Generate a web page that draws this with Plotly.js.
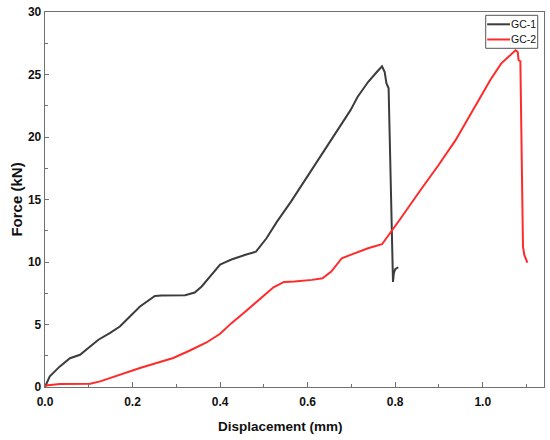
<!DOCTYPE html>
<html>
<head>
<meta charset="utf-8">
<script src="https://cdn.plot.ly/plotly-3.0.1.min.js"></script>
<style>html,body{margin:0;padding:0;background:#fff;}#chart{width:550px;height:440px;}</style>
</head>
<body>
<div id="chart"></div>
<script>
var seriesNames = ["GC-1", "GC-2"];
var seriesColors = ["#3c3c3c", "#ff2a2a"];
var gc1X = [0, 0.002, 0.011, 0.034, 0.057, 0.08, 0.103, 0.122, 0.148, 0.171, 0.194, 0.217, 0.251, 0.266, 0.32, 0.342, 0.358, 0.377, 0.40, 0.41, 0.426, 0.458, 0.482, 0.506, 0.53, 0.562, 0.594, 0.626, 0.658, 0.674, 0.698, 0.714, 0.738, 0.758, 0.770, 0.776, 0.780, 0.785, 0.787, 0.790, 0.792, 0.7935, 0.795, 0.797, 0.800, 0.807];
var gc1Y = [0, 0.18, 0.85, 1.65, 2.3, 2.58, 3.24, 3.78, 4.31, 4.84, 5.64, 6.44, 7.29, 7.33, 7.35, 7.56, 8.04, 8.83, 9.8, 9.95, 10.2, 10.58, 10.83, 11.9, 13.23, 14.83, 16.56, 18.29, 20.0, 20.95, 22.15, 23.2, 24.4, 25.2, 25.66, 25.2, 24.3, 23.9, 20.3, 15.0, 11.2, 9.1, 8.4, 9.1, 9.42, 9.58];
var gc2X = [0, 0.002, 0.034, 0.103, 0.126, 0.156, 0.183, 0.217, 0.255, 0.293, 0.331, 0.369, 0.40, 0.426, 0.458, 0.49, 0.522, 0.546, 0.57, 0.61, 0.634, 0.654, 0.678, 0.698, 0.738, 0.77, 0.786, 0.81, 0.858, 0.898, 0.938, 0.978, 1.018, 1.042, 1.066, 1.075, 1.08, 1.082, 1.086, 1.09, 1.092, 1.095, 1.098, 1.102];
var gc2Y = [0.05, 0.13, 0.24, 0.26, 0.45, 0.8, 1.17, 1.52, 1.92, 2.32, 2.92, 3.56, 4.26, 5.11, 6.04, 7.05, 7.98, 8.41, 8.44, 8.57, 8.7, 9.24, 10.3, 10.57, 11.1, 11.42, 12.16, 13.36, 15.76, 17.7, 19.75, 22.15, 24.6, 25.87, 26.6, 26.94, 26.8, 26.14, 26.06, 16.3, 11.24, 10.57, 10.3, 9.95];
var xTickVals = [0, 0.2, 0.4, 0.6, 0.8, 1.0];
var xTickText = ["0.0", "0.2", "0.4", "0.6", "0.8", "1.0"];
var yTickVals = [0, 5, 10, 15, 20, 25, 30];
var xTitle = "Displacement (mm)";
var yTitle = "Force (kN)";

var fam = "Liberation Sans, Arial, sans-serif";
var traces = [
  {x: gc1X, y: gc1Y, name: seriesNames[0], mode: "lines", line: {color: seriesColors[0], width: 2}},
  {x: gc2X, y: gc2Y, name: seriesNames[1], mode: "lines", line: {color: seriesColors[1], width: 2}}
];
function axisCommon() {
  return {
    showline: true, mirror: true, linecolor: "#707070", linewidth: 1.3,
    ticks: "inside", ticklen: 5, tickwidth: 1, tickcolor: "#707070",
    showgrid: false, zeroline: false,
    tickfont: {family: fam, size: 12, color: "#111", weight: "bold"}
  };
}
// boxed key in the upper-right corner (paper coordinates)
var keyBox = {x0: 0.8832, x1: 0.9874, y0: 0.9032, y1: 0.9912};
var keyRows = [0.9672, 0.9267];
var shapes = [{type: "rect", xref: "paper", yref: "paper", x0: keyBox.x0, x1: keyBox.x1, y0: keyBox.y0, y1: keyBox.y1,
  line: {color: "#555", width: 1}, fillcolor: "rgba(255,255,255,0)"}];
var annotations = [
  {text: "<b>" + xTitle + "</b>", xref: "paper", yref: "paper", x: 0.472, y: -0.106, xanchor: "center", yanchor: "middle",
   showarrow: false, font: {family: fam, size: 13.5, color: "#111"}},
  {text: "<b>" + yTitle + "</b>", xref: "paper", yref: "paper", x: -0.058, y: 0.5, xanchor: "center", yanchor: "middle",
   textangle: -90, showarrow: false, font: {family: fam, size: 15, color: "#111"}}
];
seriesNames.forEach(function (nm, i) {
  shapes.push({type: "line", xref: "paper", yref: "paper", x0: keyBox.x0 + 0.003, x1: 0.9319, y0: keyRows[i], y1: keyRows[i],
    line: {color: seriesColors[i], width: 2}});
  annotations.push({text: nm, xref: "paper", yref: "paper", x: 0.9309, y: keyRows[i], xanchor: "left", yanchor: "middle",
    showarrow: false, font: {family: fam, size: 10.5, color: "#111"}, borderpad: 0});
});
var layout = {
  width: 550, height: 440,
  margin: {l: 45, r: 6, t: 12, b: 53},
  paper_bgcolor: "#fff", plot_bgcolor: "#fff",
  showlegend: false,
  xaxis: Object.assign(axisCommon(), {range: [0, 1.14], tickvals: xTickVals, ticktext: xTickText,
    ticklabelstandoff: 3,
    minor: {dtick: 0.1, ticks: "inside", ticklen: 3, tickcolor: "#707070"}}),
  yaxis: Object.assign(axisCommon(), {range: [0, 30], tickvals: yTickVals, ticklen: 4,
    minor: {dtick: 2.5, ticks: "inside", ticklen: 3, tickcolor: "#707070"}}),
  shapes: shapes,
  annotations: annotations
};
Plotly.newPlot("chart", traces, layout, {displayModeBar: false, staticPlot: true});
</script>
</body>
</html>
